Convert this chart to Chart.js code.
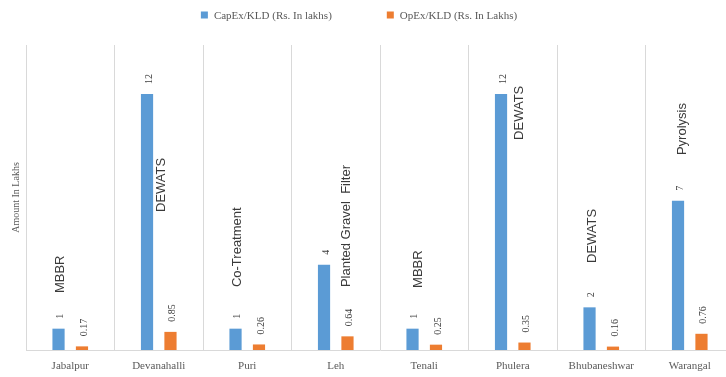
<!DOCTYPE html>
<html>
<head>
<meta charset="utf-8">
<script src="https://cdn.jsdelivr.net/npm/chart.js@4.4.1/dist/chart.umd.min.js"></script>
<style>
  html, body { margin: 0; padding: 0; background: #ffffff; overflow: hidden; }
  #wrap { width: 740px; height: 377px; }
</style>
</head>
<body>
<div id="wrap"><canvas id="chart" width="740" height="377"></canvas></div>
<script>
// Cost per KLD of treatment capacity, by city
const categories = ['Jabalpur', 'Devanahalli', 'Puri', 'Leh', 'Tenali', 'Phulera', 'Bhubaneshwar', 'Warangal'];
const capexPerKld = [1, 12, 1, 4, 1, 12, 2, 7];
const opexPerKld = [0.17, 0.85, 0.26, 0.64, 0.25, 0.35, 0.16, 0.76];
const technologies = ['MBBR', 'DEWATS', 'Co-Treatment', 'Planted Gravel  Filter', 'MBBR', 'DEWATS', 'DEWATS', 'Pyrolysis'];
const seriesNames = ['CapEx/KLD (Rs. In lakhs)', 'OpEx/KLD (Rs. In Lakhs)'];
const axisTitle = 'Amount In Lakhs';

// Where each technology note sits: horizontal shift from the category centre (px)
// and the axis value where the text starts.
const noteLayout = [
  { dx: -10, at: 2.67 }, { dx: 3, at: 6.47 }, { dx: -10, at: 2.95 }, { dx: 11, at: 2.95 },
  { dx: -6, at: 2.91 }, { dx: 7, at: 9.85 }, { dx: -9, at: 4.08 }, { dx: -7, at: 9.14 }
];

const BLUE = '#5B9BD5';
const ORANGE = '#ED7D31';
const TEXT = '#595959';
const SERIF = '"Liberation Serif", "DejaVu Serif", serif';
const SANS = '"Liberation Sans", Arial, sans-serif';

// Rotated value labels above every bar
const valueLabels = {
  id: 'valueLabels',
  afterDatasetsDraw(chart) {
    const ctx = chart.ctx;
    ctx.save();
    ctx.font = '10px ' + SERIF;
    ctx.fillStyle = '#404040';
    ctx.textAlign = 'left';
    ctx.textBaseline = 'middle';
    chart.data.datasets.forEach((ds, di) => {
      chart.getDatasetMeta(di).data.forEach((bar, i) => {
        ctx.save();
        ctx.translate(bar.x + 2, bar.y - 10);
        ctx.rotate(-Math.PI / 2);
        ctx.fillText(String(ds.data[i]), 0, 0);
        ctx.restore();
      });
    });
    ctx.restore();
  }
};

// Treatment technology notes, written vertically inside each category
const techNotes = {
  id: 'techNotes',
  afterDatasetsDraw(chart) {
    const ctx = chart.ctx;
    const x = chart.scales.x, y = chart.scales.y;
    ctx.save();
    ctx.font = '13px ' + SANS;
    ctx.fillStyle = '#3a3a3a';
    ctx.textAlign = 'left';
    ctx.textBaseline = 'middle';
    technologies.forEach((t, i) => {
      const pos = noteLayout[i];
      ctx.save();
      ctx.translate(x.getPixelForValue(i) + pos.dx, y.getPixelForValue(pos.at));
      ctx.rotate(-Math.PI / 2);
      ctx.fillText(t, 0, 0);
      ctx.restore();
    });
    ctx.restore();
  }
};

// Series key across the top
const topKey = {
  id: 'topKey',
  afterDraw(chart) {
    const ctx = chart.ctx;
    const box = 7, gapText = 6, gapItem = 55, centre = 359, cy = 15;
    ctx.save();
    ctx.font = '11px ' + SERIF;
    ctx.textBaseline = 'middle';
    ctx.textAlign = 'left';
    const items = chart.data.datasets.map(ds => ({ label: ds.label, color: ds.backgroundColor, w: ctx.measureText(ds.label).width }));
    const total = items.reduce((s, it) => s + box + gapText + it.w, 0) + gapItem * (items.length - 1);
    let cx = centre - total / 2;
    items.forEach(it => {
      ctx.fillStyle = it.color;
      ctx.fillRect(cx, cy - box / 2, box, box);
      ctx.fillStyle = TEXT;
      ctx.fillText(it.label, cx + box + gapText, cy + 1);
      cx += box + gapText + it.w + gapItem;
    });
    ctx.restore();
  }
};

new Chart(document.getElementById('chart'), {
  type: 'bar',
  data: {
    labels: categories,
    datasets: [
      { label: seriesNames[0], data: capexPerKld, backgroundColor: BLUE },
      { label: seriesNames[1], data: opexPerKld, backgroundColor: ORANGE }
    ]
  },
  options: {
    responsive: false,
    animation: false,
    categoryPercentage: 0.53,
    barPercentage: 0.52,
    layout: { padding: { top: 45, left: 6, right: 6, bottom: 4 } },
    plugins: {
      legend: { display: false },
      tooltip: { enabled: false }
    },
    scales: {
      x: {
        grid: { offset: true, color: '#D9D9D9', drawTicks: false },
        border: { color: '#D9D9D9' },
        ticks: { color: TEXT, font: { family: SERIF, size: 11 }, padding: 10 },
        afterFit(scale) { scale.height = 23; }
      },
      y: {
        min: 0,
        max: 14.3,
        grid: { display: false },
        border: { display: false },
        ticks: { display: false },
        title: {
          display: true,
          text: axisTitle,
          color: TEXT,
          font: { family: SERIF, size: 10 },
          padding: { top: 4, bottom: 4 }
        },
        afterFit(scale) { scale.width = 20; }
      }
    }
  },
  plugins: [valueLabels, techNotes, topKey]
});
</script>
</body>
</html>
